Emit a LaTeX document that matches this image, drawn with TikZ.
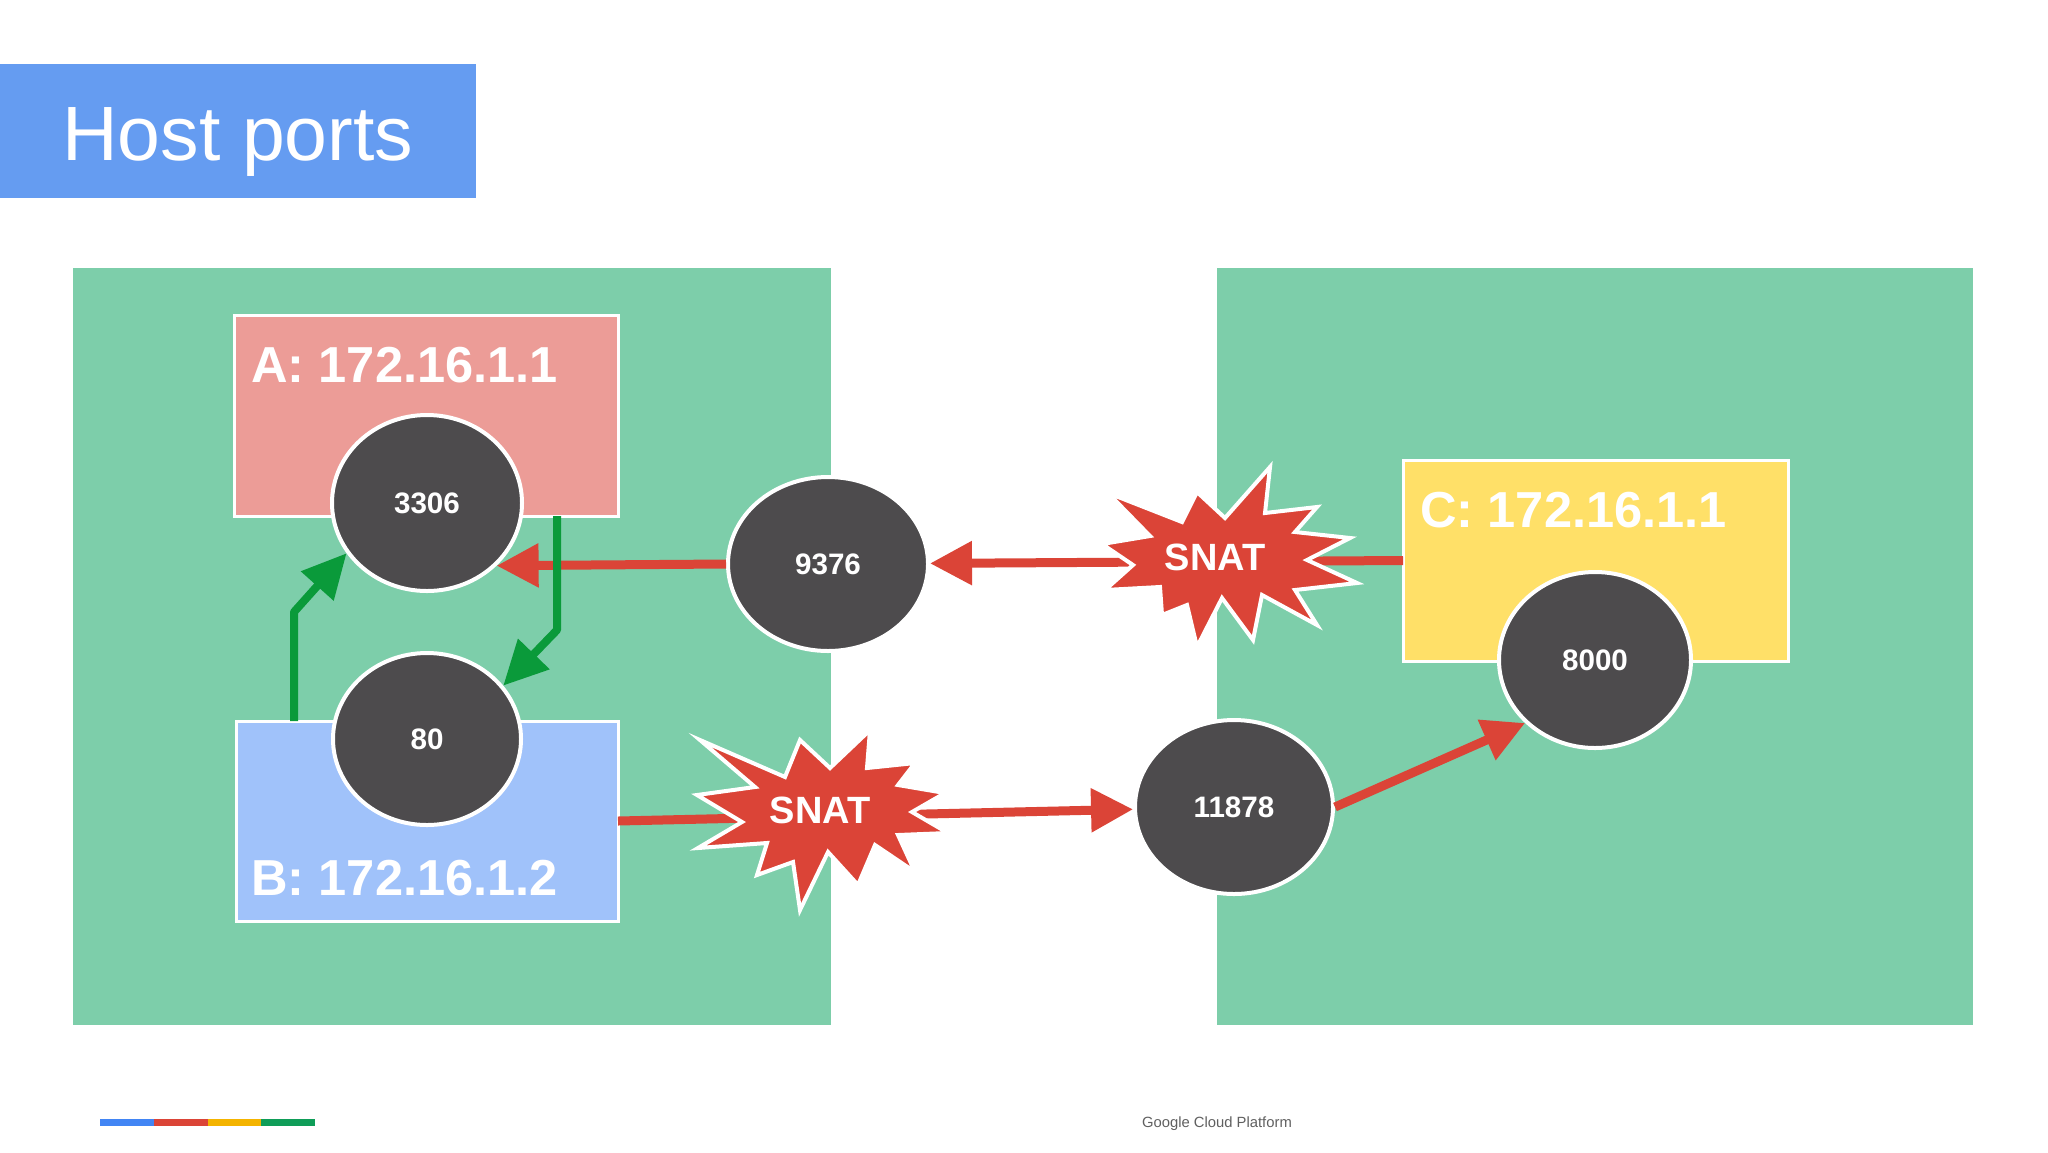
\documentclass[tikz,border=0pt]{standalone}
\usepackage{fontspec}
\setmainfont{Liberation Sans}
\usetikzlibrary{arrows.meta,shapes.geometric}
\definecolor{panelgreen}{HTML}{7DCEAA}
\definecolor{titleblue}{HTML}{659CF1}
\definecolor{podpink}{HTML}{EC9C97}
\definecolor{podblue}{HTML}{A0C2FA}
\definecolor{podyellow}{HTML}{FFE068}
\definecolor{portgray}{HTML}{4D4B4D}
\definecolor{gred}{HTML}{DB4437}
\definecolor{ggreen}{HTML}{0A9A3A}
\definecolor{barblue}{HTML}{4285F4}
\definecolor{barred}{HTML}{DB4437}
\definecolor{baryellow}{HTML}{F4B400}
\definecolor{bargreen}{HTML}{0F9D58}
\definecolor{footgray}{HTML}{606060}
\begin{document}
\begin{tikzpicture}[x=0.5pt,y=-0.5pt,
  podbox/.style={draw=white,line width=1.5pt,inner sep=0pt,outer sep=0pt},
  port/.style={ellipse,fill=portgray,draw=white,line width=2pt,inner sep=0pt,
    minimum width=96pt,minimum height=87pt,text=white,
    font=\bfseries\fontsize{14.8}{16}\selectfont},
  redarrow/.style={draw=gred,line width=4.5pt,-{Triangle[length=21pt,width=21pt]}},
  greenarrow/.style={draw=ggreen,line width=4pt,line join=round,-{Triangle[length=22pt,width=21pt]}},
  iplabel/.style={anchor=base west,text=white,inner sep=0pt,
    font=\bfseries\fontsize{25.3}{30}\selectfont},
  snatstar/.style={fill=gred,draw=white,line width=2pt,line join=miter},
  snattext/.style={text=white,inner sep=0pt,font=\bfseries\fontsize{19}{21}\selectfont}
]
\useasboundingbox (0,0) rectangle (2048,1152);
\fill[white] (0,0) rectangle (2048,1152);

% title
\fill[titleblue] (0,64) rectangle (476,198);
\node[anchor=base west,text=white,inner sep=0pt,font=\fontsize{38.5}{42}\selectfont] (title) at (62,160) {Host ports};

% panels
\fill[panelgreen] (73,268) rectangle (831,1025);
\fill[panelgreen] (1217,268) rectangle (1973,1025);

% pod boxes
\node[podbox,fill=podpink,minimum width=192pt,minimum height=100.5pt] (A) at (426,415.5) {};
\node[podbox,fill=podblue,minimum width=191pt,minimum height=100pt] (B) at (427,821) {};
\node[podbox,fill=podyellow,minimum width=192.5pt,minimum height=100.5pt] (C) at (1595.5,560.5) {};
\node[iplabel] (Alab) at (251,382) {A: 172.16.1.1};
\node[iplabel] (Blab) at (251,895) {B: 172.16.1.2};
\node[iplabel] (Clab) at (1420,527) {C: 172.16.1.1};

% ports
\node[port,minimum width=95pt,minimum height=88pt] (n3306) at (427,503) {3306};
\node[port,minimum width=94pt,minimum height=86pt] (n80) at (427,739) {80};
\node[port,minimum width=100pt,minimum height=87pt] (n9376) at (828,564) {9376};
\node[port,minimum width=99pt,minimum height=87pt] (n11878) at (1234,807) {11878};
\node[port,minimum width=96pt,minimum height=88pt] (n8000) at (1595,660) {8000};

% red connectors
\draw[redarrow] (C.west) -- (n9376);
\draw[redarrow] (n9376.west) -- (n3306.318);
\draw[redarrow] (B.east) -- (n11878);
\draw[redarrow] (n11878.east) -- (n8000.222);

% green connectors
\draw[greenarrow] ([xshift=29pt]B.north west) -- ++(0,-109) -- (n3306.212);
\draw[greenarrow] ([xshift=161.5pt]A.south west) -- ++(0,114) -- (n80.35);

% SNAT stars
\draw[snatstar,shift={(1215,557)}] (-113,-13) -- (-65,-21) -- (-107,-64) -- (-33,-35) -- (-18,-65) -- (10,-39) -- (55,-90) -- (50,-44) -- (102,-50) -- (80,-25) -- (135,-19) -- (92,3) -- (142,26) -- (80,33) -- (102,68) -- (47,38) -- (38,83) -- (7,41) -- (-18,90) -- (-28,48) -- (-53,58) -- (-55,30) -- (-110,33) -- (-82,8) -- cycle;
\node[snattext] (snat1) at (1215,557) {SNAT};
\draw[snatstar,shift={(820,810)}] (-123,-15) -- (-65,-23) -- (-120,-70) -- (-35,-33) -- (-20,-70) -- (10,-42) -- (50,-80) -- (47,-42) -- (95,-47) -- (78,-25) -- (125,-17) -- (92,2) -- (128,23) -- (78,25) -- (95,62) -- (55,35) -- (38,75) -- (8,42) -- (-20,100) -- (-27,52) -- (-63,65) -- (-53,33) -- (-122,38) -- (-78,12) -- cycle;
\node[snattext] (snat2) at (820,810) {SNAT};

% footer
\fill[barblue] (100,1119) rectangle (154,1126);
\fill[barred] (154,1119) rectangle (208,1126);
\fill[baryellow] (208,1119) rectangle (261,1126);
\fill[bargreen] (261,1119) rectangle (315,1126);
\node[text=footgray,inner sep=0pt,font=\fontsize{7.4}{9}\selectfont] (foot) at (1217,1124) {Google Cloud Platform};
\end{tikzpicture}
\end{document}
